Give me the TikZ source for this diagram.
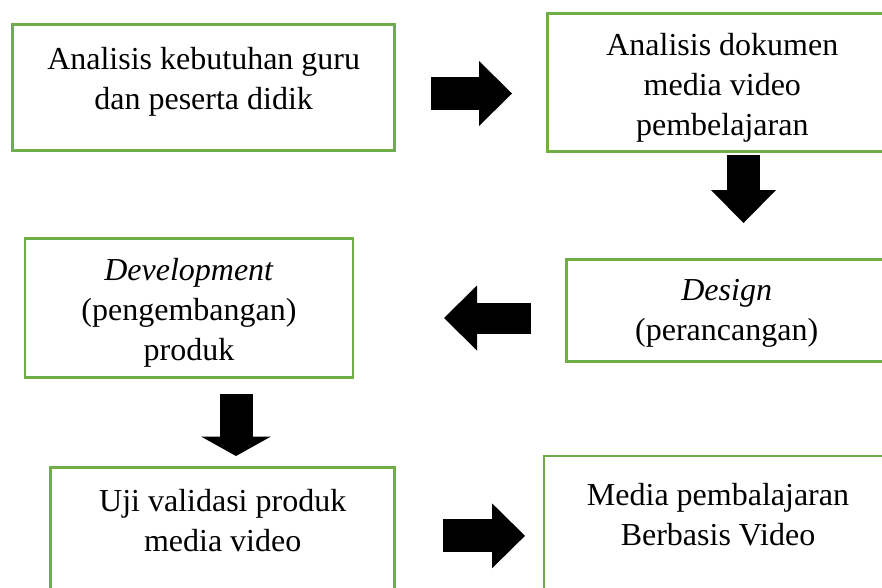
\documentclass[tikz,border=0pt]{standalone}
\usepackage{fontspec}
\setmainfont{Liberation Serif}
\usetikzlibrary{arrows.meta, positioning}

\definecolor{boxgreen}{HTML}{70AD47}

\begin{document}
\begin{tikzpicture}[x=1pt, y=-1pt,
    box/.style={draw=boxgreen, line width=2.5pt, anchor=north west, outer sep=0pt, inner sep=0pt},
    boxtext/.style={align=center, inner sep=0pt, anchor=north, font=\fontsize{32}{40}\selectfont},
    blockarrow/.style={line width=33pt, -{Triangle[length=33pt, width=65pt, line width=0pt]}}]
    \useasboundingbox (0,0) rectangle (882,587);
    \clip (0,0) rectangle (882,587);
    \fill[white] (0,0) rectangle (882,587);
    % kotak
    \node[box, minimum width=382pt, minimum height=126pt](analisis) at (12.7,24.3){};
    \node[box, minimum width=350pt, minimum height=138pt](dokumen) at (547.3,13.3){};
    \node[box, minimum width=320pt, minimum height=102pt](design) at (566.7,259.3){};
    \node[box, minimum width=328pt, minimum height=139pt](develop) at (25,238.3){};
    \node[box, minimum width=344pt, minimum height=150pt](uji) at (50.7,467.3){};
    \node[box, minimum width=348pt, minimum height=160pt](media) at (544,456){};
    % teks
    \node[boxtext, below=16.7pt of analisis.north](analisis-t){\strut Analisis kebutuhan guru\\\strut dan peserta didik};
    \node[boxtext, below=13.7pt of dokumen.north](dokumen-t){\strut Analisis dokumen\\\strut media video\\\strut pembelajaran};
    \node[boxtext, below=12.7pt of design.north](design-t){\strut\textit{Design}\\\strut (perancangan)};
    \node[boxtext, below=14pt of develop.north](develop-t){\strut\textit{Development}\\\strut (pengembangan)\\\strut produk};
    \node[boxtext, below=15.7pt of uji.north](uji-t){\strut Uji validasi produk\\\strut media video};
    \node[boxtext, below=21pt of media.north](media-t){\strut Media pembalajaran\\\strut Berbasis Video};
    % panah
    \coordinate (p1s) at (431,93.5);
    \coordinate (p1e) at (512,93.5);
    \coordinate (p2s) at (743.5,155);
    \coordinate (p2e) at (743.5,223);
    \coordinate (p3s) at (531,318);
    \coordinate (p3e) at (444,318);
    \coordinate (p4s) at (236,394);
    \coordinate (p4e) at (236,456);
    \coordinate (p5s) at (443,535.8);
    \coordinate (p5e) at (525,535.8);
    \draw[blockarrow] (p1s) -- (p1e);
    \draw[blockarrow] (p2s) -- (p2e);
    \draw[blockarrow, line width=31pt] (p3s) -- (p3e);
    \draw[blockarrow, -{Triangle[length=19.5pt, width=70pt, line width=0pt]}] (p4s) -- (p4e);
    \draw[blockarrow] (p5s) -- (p5e);
\end{tikzpicture}
\end{document}
